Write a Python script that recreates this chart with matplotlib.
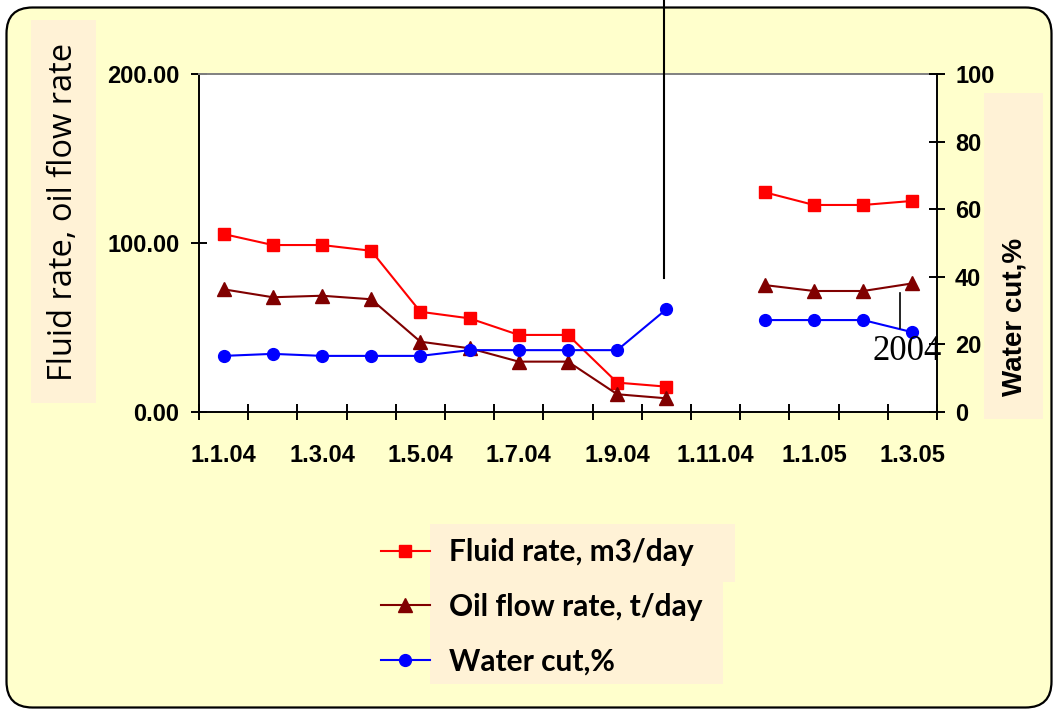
#!/usr/bin/env python3

import numpy as np
import matplotlib
matplotlib.use("Agg")
import matplotlib.pyplot as plt
from matplotlib.patches import FancyBboxPatch, Rectangle
from matplotlib.lines import Line2D

# --- Data (monthly, Jan 2004 .. Mar 2005; Nov 2004 missing) ---
months = ["1.1.04", "1.2.04", "1.3.04", "1.4.04", "1.5.04", "1.6.04", "1.7.04",
          "1.8.04", "1.9.04", "1.10.04", "1.11.04", "1.12.04", "1.1.05",
          "1.2.05", "1.3.05"]
fluid_rate = [105.3, 98.8, 98.8, 95.4, 59.3, 55.4, 45.6, 45.6, 17.4, 15.0,
              np.nan, 130.0, 122.5, 122.5, 124.9]
oil_rate = [72.6, 67.9, 68.8, 66.7, 41.6, 37.7, 29.8, 29.8, 10.5, 8.1,
            np.nan, 75.1, 71.6, 71.6, 76.1]
water_cut = [16.6, 17.2, 16.6, 16.6, 16.6, 18.3, 18.3, 18.3, 18.3, 30.4,
             np.nan, 27.2, 27.2, 27.2, 23.6]
left_ticks = [0, 100, 200]
right_ticks = [0, 20, 40, 60, 80, 100]

W, H = 1054, 710
BG = "#FFFFCC"
TAN = "#FFF2D6"


def fx(px):
    return px / W


def fy(py):
    return 1 - py / H


fig = plt.figure(figsize=(W / 100, H / 100), dpi=100, facecolor="white")

# rounded yellow panel
panel = FancyBboxPatch((0.065, 0.025), 10.45, 7.0,
                       boxstyle="round,pad=0,rounding_size=0.26",
                       transform=fig.dpi_scale_trans, facecolor=BG,
                       edgecolor="black", linewidth=1.6, zorder=-10)
fig.patches.append(panel)

# tan boxes behind axis titles and legend
for (x0, y0, x1, y1) in [(31, 20, 96, 403), (984, 93, 1043, 419),
                         (430, 524, 735, 582), (430, 582, 723, 684)]:
    fig.patches.append(Rectangle((fx(x0), fy(y1)), fx(x1) - fx(x0), fy(y0) - fy(y1),
                                 transform=fig.transFigure, facecolor=TAN,
                                 edgecolor="none", zorder=-9))

ax = fig.add_axes([fx(199), fy(412), fx(937) - fx(199), fy(74) - fy(412)])
ax.set_facecolor("white")
ax2 = ax.twinx()

x = np.arange(len(months))
l1, = ax.plot(x, fluid_rate, color="#FF0000", lw=1.5, marker="s", ms=8.5,
              label="Fluid rate, m3/day")
l2, = ax.plot(x, oil_rate, color="#800000", lw=1.5, marker="^", ms=9.5,
              label="Oil flow rate, t/day")
l3, = ax2.plot(x, water_cut, color="#0000FF", lw=1.5, marker="o", ms=8.5,
               label="Water cut,%")

ax.set_xlim(-0.5, len(months) - 0.5)
ax.set_ylim(0, 200)
ax2.set_ylim(0, 100)

tick_font = dict(family="Liberation Sans", weight="bold", size=17)

# tick marks between months, labels every second month
ax.set_xticks(np.arange(-0.5, len(months), 1.0))
ax.set_xticklabels([])
ax.set_xticks(x[::2], minor=True)
ax.set_xticklabels(months[::2], minor=True, **tick_font)
ax.tick_params(axis="x", which="major", direction="inout", length=12, width=1.4)
ax.tick_params(axis="x", which="minor", length=0, pad=23)

ax.set_yticks(left_ticks)
ax.set_yticklabels([f"{v:.2f}" for v in left_ticks], **tick_font)
ax.tick_params(axis="y", direction="inout", length=12, width=1.4, pad=8)

ax2.set_yticks(right_ticks)
ax2.set_yticklabels([str(v) for v in right_ticks], **tick_font)
ax2.tick_params(axis="y", direction="inout", length=12, width=1.4, pad=7)

for s in ["left", "bottom"]:
    ax.spines[s].set_color("black")
    ax.spines[s].set_linewidth(1.4)
ax.spines["top"].set_color("#808080")
ax.spines["top"].set_linewidth(1.4)
ax.spines["right"].set_visible(False)
ax2.spines["right"].set_linewidth(1.4)
for s in ["left", "bottom", "top"]:
    ax2.spines[s].set_visible(False)

ax.set_ylabel("Fluid rate, oil flow rate", family="Open Sans", size=23.5)
ax.yaxis.set_label_coords(fx(64), fy(212), transform=fig.transFigure)
ax.yaxis.label.set_va("center")
ax2.set_ylabel("Water cut,%", family="Liberation Sans", weight="bold", size=20,
               rotation=90)
ax2.yaxis.set_label_coords(fx(1014), fy(317), transform=fig.transFigure)
ax2.yaxis.label.set_va("center")

fig.legend(handles=[l1, l2, l3], loc="upper left",
           bbox_to_anchor=(fx(381), fy(538)), frameon=False,
           prop=dict(family="Lato", weight="bold", size=21.5),
           handlelength=1.63, handletextpad=0.65, labelspacing=0.89,
           borderpad=0, borderaxespad=0)

# stray drawing objects from the original slide
fig.add_artist(Line2D([fx(664), fx(664)], [1.0, fy(278)], transform=fig.transFigure,
                      color="black", lw=1.5))
fig.add_artist(Line2D([fx(900), fx(900)], [fy(293), fy(328)], transform=fig.transFigure,
                      color="black", lw=1.2))
fig.text(fx(907), fy(351), "2004", family="Liberation Serif", size=25,
         ha="center", va="center", zorder=5)

fig.savefig("out.png", dpi=100, facecolor="white")
